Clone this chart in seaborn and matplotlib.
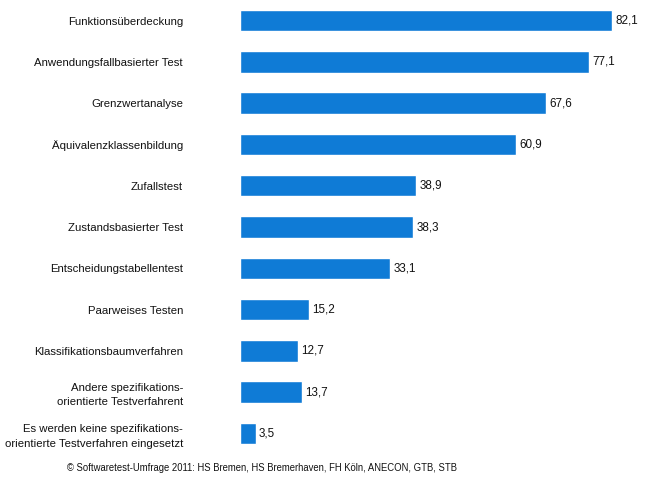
import matplotlib
matplotlib.use("Agg")
import matplotlib.pyplot as plt
import seaborn as sns
import pandas as pd

# Data
methods = [
    "Funktionsüberdeckung",
    "Anwendungsfallbasierter Test",
    "Grenzwertanalyse",
    "Äquivalenzklassenbildung",
    "Zufallstest",
    "Zustandsbasierter Test",
    "Entscheidungstabellentest",
    "Paarweises Testen",
    "Klassifikationsbaumverfahren",
    "Andere spezifikations-\norientierte Testverfahrent",
    "Es werden keine spezifikations-\norientierte Testverfahren eingesetzt",
]
shares = [82.1, 77.1, 67.6, 60.9, 38.9, 38.3, 33.1, 15.2, 12.7, 13.7, 3.5]
footer = "© Softwaretest-Umfrage 2011: HS Bremen, HS Bremerhaven, FH Köln, ANECON, GTB, STB"

BAR_COLOR = "#0f7bd6"

sns.set_style("white")
plt.rcParams["font.family"] = ["Liberation Sans", "DejaVu Sans"]

df = pd.DataFrame({"Methode": methods, "Anteil": shares})

fig = plt.figure(figsize=(6.53, 4.79), dpi=100)
ax = fig.add_axes([240 / 653, 25 / 479, 1 - 240 / 653, 454 / 479])

sns.barplot(data=df, y="Methode", x="Anteil", orient="h", color=BAR_COLOR,
            width=0.52, saturation=1, ax=ax)

ax.set_xlim(0, (653 - 240) / 4.53)
ax.set_ylim(10.5, -0.5)
ax.set_xlabel("")
ax.set_ylabel("")
ax.set_xticks([])
# pad in points: ~57 px gap between label and bar
ax.tick_params(axis="y", length=0, pad=41, labelsize=8.2, labelcolor="#111111")
for lab in ax.get_yticklabels():
    lab.set_horizontalalignment("right")
    lab.set_multialignment("right")
    lab.set_linespacing(1.55)
sns.despine(ax=ax, left=True, bottom=True)

for i, v in enumerate(shares):
    ax.text(v + 0.7, i, f"{v:.1f}".replace(".", ","), va="center", ha="left",
            fontsize=8.4, color="#111111")

fig.text(262 / 653, 1 - 468 / 479, footer, ha="center", va="center",
         fontsize=6.85, color="#111111")

fig.savefig("out.png", dpi=100)
